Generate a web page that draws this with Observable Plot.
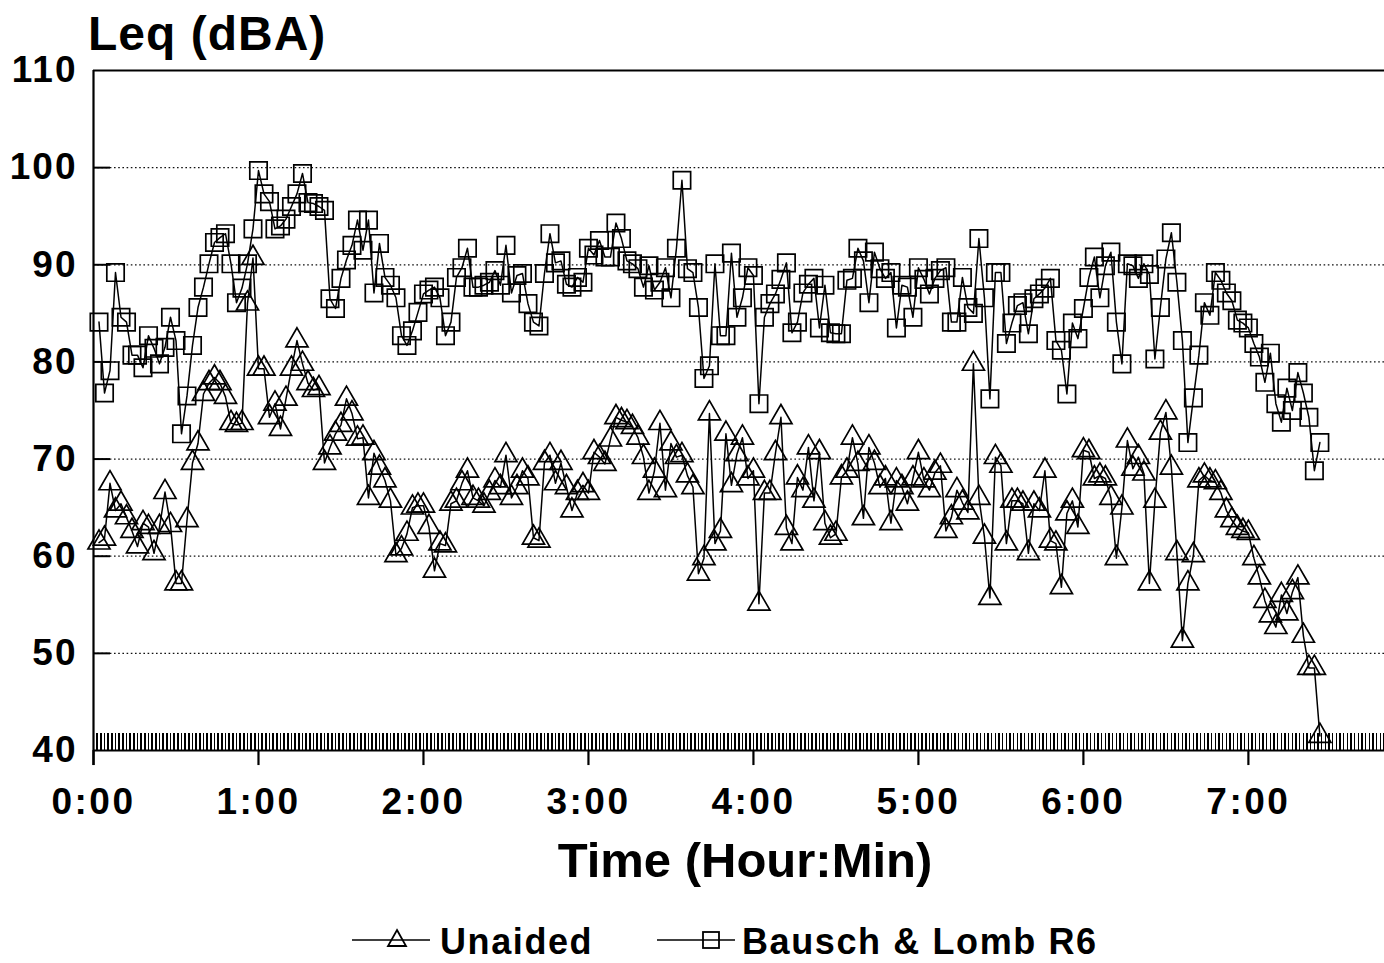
<!DOCTYPE html>
<html>
<head>
<meta charset="utf-8">
<script src="https://cdn.jsdelivr.net/npm/d3@7"></script>
<script src="https://cdn.jsdelivr.net/npm/@observablehq/plot@0.6"></script>
<style>
  html, body { margin: 0; padding: 0; background: #fff; }
  #wrap { position: relative; width: 1384px; height: 963px; overflow: hidden; background: #fff;
          font-family: "Liberation Sans", Arial, Helvetica, sans-serif; color: #000; }
  #chart { position: absolute; left: 0; top: 0; }
  .ttl { position: absolute; white-space: nowrap; line-height: 1; }
  #ylab { left: 88px; top: 10px; font-size: 48px; font-weight: bold; letter-spacing: 1px; }
  #xlab { left: 745px; top: 836px; font-size: 49px; font-weight: bold; transform: translateX(-50%); }
  .leg { position: absolute; top: 927px; font-size: 36px; font-weight: bold; line-height: 30px; height: 30px;
         white-space: nowrap; letter-spacing: 1.6px; }
  .legsym { position: absolute; top: 922px; }
  #chart g[aria-label="y-axis tick label"] text { letter-spacing: 2px; }
  #chart g[aria-label="x-axis tick label"] text { letter-spacing: 2.5px; }
</style>
</head>
<body>
<div id="wrap">
  <div id="chart"></div>
  <div id="ylab" class="ttl">Leq (dBA)</div>
  <div id="xlab" class="ttl">Time (Hour:Min)</div>
  <svg class="legsym" style="left:350px" width="82" height="36"><line x1="2" y1="18" x2="80" y2="18" stroke="#000" stroke-width="1.6"/><path d="M47,8 L56,24 L38,24 Z" fill="none" stroke="#000" stroke-width="1.8"/></svg>
  <div class="leg" style="left:440px">Unaided</div>
  <svg class="legsym" style="left:655px" width="82" height="36"><line x1="2" y1="18" x2="80" y2="18" stroke="#000" stroke-width="1.6"/><rect x="48" y="10" width="16" height="16" fill="none" stroke="#000" stroke-width="1.8"/></svg>
  <div class="leg" style="left:742px">Bausch &amp; Lomb R6</div>
</div>
<script>
// sampling interval of the recordings (minutes)
const SAMPLE_MIN = 2;

// Leq (dBA), Unaided, one value every 2 minutes starting at 0:02
const unaided = [
  61.4, 61.8, 67.5, 64.7, 65.4, 64.0, 62.6, 61.0, 63.4, 63.0,
  60.3, 63.0, 66.6, 63.2, 57.2, 57.2, 63.7, 69.6, 71.6, 76.7,
  77.8, 78.4, 77.8, 76.4, 73.7, 73.5, 73.7, 86.0, 90.7, 79.3,
  79.3, 74.3, 75.7, 73.1, 76.2, 79.3, 82.2, 79.8, 77.8, 77.1,
  77.3, 69.6, 71.2, 72.6, 73.5, 76.2, 74.7, 72.1, 72.2, 66.0,
  70.6, 69.1, 67.8, 65.7, 60.1, 60.8, 62.3, 65.0, 65.2, 65.2,
  63.0, 58.5, 61.3, 61.1, 65.4, 65.7, 67.5, 68.8, 66.0, 65.7,
  65.2, 66.5, 67.8, 67.1, 70.4, 66.0, 67.1, 68.8, 68.0, 61.9,
  61.6, 69.6, 70.4, 67.5, 69.6, 67.1, 64.7, 66.5, 67.3, 66.5,
  70.7, 70.2, 69.5, 72.0, 74.3, 74.0, 73.8, 73.3, 72.2, 70.2,
  66.5, 68.8, 73.7, 66.8, 71.6, 70.2, 70.4, 68.3, 67.1, 58.2,
  59.8, 74.7, 61.3, 62.6, 72.6, 67.3, 70.5, 72.2, 68.0, 68.8,
  55.1, 66.5, 66.5, 70.6, 74.3, 62.9, 61.3, 68.1, 66.8, 71.2,
  65.7, 70.7, 63.4, 61.9, 62.3, 68.1, 68.8, 72.2, 69.5, 63.9,
  71.2, 69.6, 67.1, 68.0, 63.4, 67.8, 67.1, 65.4, 68.0, 70.7,
  67.8, 66.8, 68.6, 69.3, 62.6, 64.0, 66.8, 65.5, 64.5, 79.8,
  66.0, 62.0, 55.7, 70.2, 69.3, 61.3, 65.7, 65.7, 65.4, 60.3,
  65.4, 64.7, 68.8, 61.6, 61.3, 56.8, 64.4, 65.7, 63.0, 70.9,
  70.7, 68.0, 68.3, 68.0, 66.0, 59.8, 65.0, 71.9, 69.0, 70.2,
  68.5, 57.2, 65.7, 72.7, 74.8, 69.1, 60.3, 51.3, 57.2, 60.1,
  67.8, 68.3, 67.8, 67.6, 66.5, 64.7, 63.7, 62.9, 62.6, 62.4,
  59.8, 57.8, 55.4, 53.9, 52.7, 56.0, 54.1, 56.3, 57.8, 51.8,
  48.5, 48.5, 41.5
];

// Leq (dBA), Bausch & Lomb R6
const bausch = [
  84.1, 76.8, 79.1, 89.2, 84.6, 84.1, 80.7, 80.7, 79.4, 82.7,
  81.4, 79.8, 81.5, 84.6, 82.2, 72.6, 76.5, 81.7, 85.6, 87.7,
  90.1, 92.3, 92.8, 93.2, 90.1, 86.1, 87.6, 90.1, 93.7, 99.7,
  97.3, 96.5, 93.7, 94.0, 94.7, 96.0, 97.3, 99.4, 96.4, 96.3,
  96.0, 95.6, 86.5, 85.5, 88.6, 90.5, 92.0, 94.6, 91.5, 94.6,
  87.1, 92.2, 88.7, 87.9, 86.6, 82.7, 81.7, 83.2, 85.1, 87.0,
  87.4, 87.7, 86.6, 82.7, 84.1, 88.7, 89.7, 91.7, 87.7, 87.7,
  87.9, 88.2, 89.4, 87.9, 92.0, 87.1, 88.9, 89.1, 86.0, 84.1,
  83.7, 89.1, 93.2, 90.2, 90.4, 88.0, 87.7, 88.7, 88.2, 91.7,
  91.0, 92.5, 90.8, 90.8, 94.3, 92.7, 90.4, 90.1, 89.6, 87.7,
  89.9, 87.4, 88.2, 89.7, 86.6, 91.7, 98.7, 89.6, 89.2, 85.6,
  78.3, 79.6, 90.1, 82.7, 82.7, 91.2, 84.6, 86.6, 89.7, 88.9,
  75.7, 84.6, 86.0, 87.0, 88.5, 90.2, 83.0, 84.1, 87.1, 88.0,
  88.6, 83.5, 87.9, 83.0, 82.9, 82.9, 88.4, 88.6, 91.7, 90.4,
  86.1, 91.3, 89.6, 88.6, 89.2, 83.5, 87.9, 87.7, 84.6, 89.7,
  88.5, 87.0, 88.6, 89.4, 89.7, 84.1, 84.1, 88.7, 85.6, 85.0,
  92.7, 86.6, 76.2, 89.2, 89.2, 81.9, 84.0, 85.8, 86.1, 82.9,
  86.5, 87.0, 87.6, 88.6, 82.2, 81.2, 76.7, 84.0, 82.4, 85.5,
  88.7, 90.8, 86.6, 89.9, 91.3, 84.1, 79.8, 90.1, 89.9, 88.6,
  90.1, 89.0, 80.3, 85.6, 90.6, 93.3, 88.2, 82.2, 71.7, 76.3,
  80.7, 86.1, 84.8, 89.2, 88.4, 87.1, 86.3, 84.3, 84.0, 83.5,
  81.9, 80.5, 77.9, 80.9, 75.7, 73.8, 77.3, 75.0, 78.9, 76.8,
  74.3, 68.8, 71.7
];

// axis ticks
const yTicks = [40, 50, 60, 70, 80, 90, 100, 110];
const yGrid = [50, 60, 70, 80, 90, 100];
const hourTicks = [0, 60, 120, 180, 240, 300, 360, 420];
const hourLabels = ["0:00", "1:00", "2:00", "3:00", "4:00", "5:00", "6:00", "7:00"];
const MINOR_STEP = 4 / 3; // minor tick spacing (minutes)
const X_MAX = 469.5;

const rowsU = unaided.map((v, i) => ({t: SAMPLE_MIN * (i + 1), v}));
const rowsB = bausch.map((v, i) => ({t: SAMPLE_MIN * (i + 1), v}));
const minorTicks = d3.range(0, X_MAX, MINOR_STEP);

const chart = Plot.plot({
  width: 1384,
  height: 963,
  marginLeft: 93,
  marginRight: 0,
  marginTop: 70,
  marginBottom: 213,
  style: {fontFamily: '"Liberation Sans", Arial, sans-serif', color: "#000", background: "#fff", overflow: "visible"},
  x: {domain: [0, X_MAX]},
  y: {domain: [40, 110]},
  marks: [
    Plot.ruleY(yGrid, {stroke: "#111", strokeWidth: 1.3, strokeDasharray: "1.6,2.6"}),
    Plot.ruleY(yGrid, {x1: 0, x2: 6.2, stroke: "#000", strokeWidth: 2}),
    Plot.ruleY([110], {stroke: "#000", strokeWidth: 2}),
    Plot.ruleX(minorTicks, {y1: 40, y2: 41.75, stroke: "#000", strokeWidth: 1.5, shapeRendering: "crispEdges"}),
    Plot.ruleX(hourTicks, {y1: 38.45, y2: 40, stroke: "#000", strokeWidth: 2.2}),
    Plot.ruleY([40], {stroke: "#000", strokeWidth: 2.2}),
    Plot.ruleX([0], {y1: 38.45, y2: 110, stroke: "#000", strokeWidth: 2.2}),
    Plot.line(rowsB, {x: "t", y: "v", stroke: "#000", strokeWidth: 1.5}),
    Plot.line(rowsU, {x: "t", y: "v", stroke: "#000", strokeWidth: 1.5}),
    Plot.dot(rowsB, {x: "t", y: "v", symbol: "square", r: 9.8, stroke: "#000", fill: "none", strokeWidth: 1.7}),
    Plot.dot(rowsU, {x: "t", y: "v", symbol: "triangle", r: 8.2, stroke: "#000", fill: "none", strokeWidth: 1.7}),
    Plot.axisY(yTicks, {tickSize: 0, tickPadding: 16, fontSize: 37, fontWeight: "bold", label: null}),
    Plot.axisX(hourTicks, {tickSize: 0, tickPadding: 37, fontSize: 37, fontWeight: "bold", label: null,
      tickFormat: d => hourLabels[hourTicks.indexOf(d)]})
  ]
});
document.getElementById("chart").appendChild(chart);
</script>
</body>
</html>
